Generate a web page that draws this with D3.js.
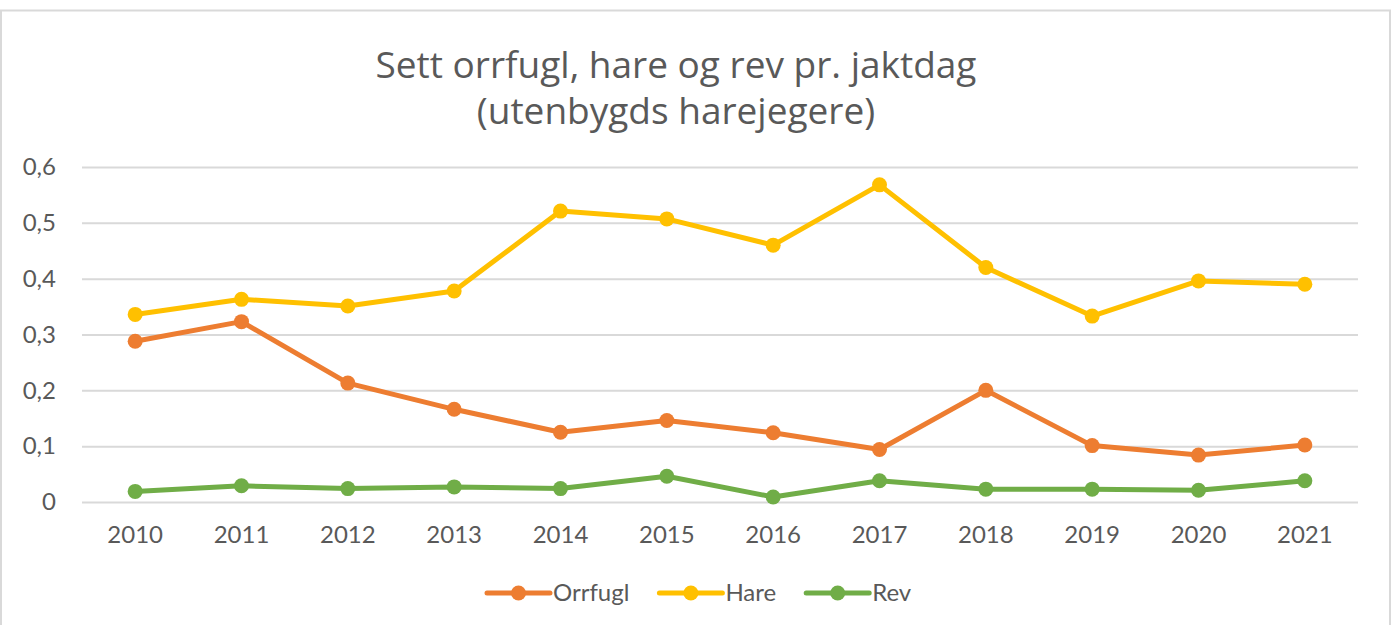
<!DOCTYPE html>
<html>
<head>
<meta charset="utf-8">
<script src="https://cdn.jsdelivr.net/npm/d3@7"></script>
<style>
  body { margin: 0; background: #fff; }
  text { font-family: Lato, "Open Sans", sans-serif; fill: #595959; }
</style>
</head>
<body>
<svg id="chart" width="1395" height="625"></svg>
<script>
// chart data
const years = ["2010", "2011", "2012", "2013", "2014", "2015", "2016", "2017", "2018", "2019", "2020", "2021"];
const orrfugl = [0.288, 0.323, 0.213, 0.166, 0.125, 0.146, 0.124, 0.094, 0.200, 0.101, 0.084, 0.102];
const hare = [0.336, 0.363, 0.351, 0.378, 0.521, 0.507, 0.460, 0.568, 0.420, 0.333, 0.396, 0.390];
const rev = [0.019, 0.029, 0.024, 0.027, 0.024, 0.046, 0.009, 0.038, 0.023, 0.023, 0.021, 0.038];
const yTicks = [0, 0.1, 0.2, 0.3, 0.4, 0.5, 0.6];
const titleLines = ["Sett orrfugl, hare og rev pr. jaktdag", "(utenbygds harejegere)"];

const series = [
  { name: "Orrfugl", values: orrfugl, color: "#ED7D31" },
  { name: "Hare", values: hare, color: "#FFC000" },
  { name: "Rev", values: rev, color: "#70AD47" }
];

const svg = d3.select("#chart");

// outer chart border
svg.append("rect")
  .attr("x", 1).attr("y", 10.5)
  .attr("width", 1389).attr("height", 700)
  .attr("fill", "#fff")
  .attr("stroke", "#d9d9d9")
  .attr("stroke-width", 2);

// title
svg.append("text")
  .attr("x", 676).attr("y", 78)
  .attr("text-anchor", "middle")
  .style("font-family", "'Open Sans', sans-serif")
  .style("font-size", "37px")
  .selectAll("tspan")
  .data(titleLines)
  .enter()
  .append("tspan")
  .attr("x", 676)
  .attr("dy", (d, i) => i === 0 ? 0 : 46)
  .text(d => d);

const plot = { left: 82, right: 1358, top: 167, bottom: 502 };

const x = d3.scaleBand()
  .domain(years)
  .range([plot.left, plot.right]);

const y = d3.scaleLinear()
  .domain([0, 0.6])
  .range([plot.bottom, plot.top]);

const fmt = d => d === 0 ? "0" : d3.format(".1f")(d).replace(".", ",");

// gridlines + y labels
const yAxis = svg.append("g")
  .attr("transform", `translate(${plot.left},0)`)
  .call(d3.axisLeft(y).tickValues(yTicks).tickFormat(fmt).tickSize(-(plot.right - plot.left)).tickPadding(26));
yAxis.select(".domain").remove();
yAxis.selectAll(".tick line").attr("stroke", "#d9d9d9").attr("stroke-width", 2);
yAxis.selectAll(".tick text").style("font-size", "24px").attr("fill", "#595959");

// x labels
const xAxis = svg.append("g")
  .attr("transform", `translate(0,${plot.bottom})`)
  .call(d3.axisBottom(x).tickSize(0).tickPadding(24));
xAxis.select(".domain").remove();
xAxis.selectAll(".tick text").style("font-size", "24px").attr("fill", "#595959");

const line = d3.line()
  .x((d, i) => x(years[i]) + x.bandwidth() / 2)
  .y(d => y(d));

series.forEach(s => {
  const g = svg.append("g");
  g.append("path")
    .datum(s.values)
    .attr("d", line)
    .attr("fill", "none")
    .attr("stroke", s.color)
    .attr("stroke-width", 5)
    .attr("stroke-linejoin", "round")
    .attr("stroke-linecap", "round");
  g.selectAll("circle")
    .data(s.values)
    .enter()
    .append("circle")
    .attr("cx", (d, i) => x(years[i]) + x.bandwidth() / 2)
    .attr("cy", d => y(d))
    .attr("r", 7.5)
    .attr("fill", s.color);
});

// legend
const legend = svg.append("g").attr("transform", "translate(0,593)");
let lx = 487;
series.forEach(s => {
  const item = legend.append("g").attr("transform", `translate(${lx},0)`);
  item.append("line")
    .attr("x1", 0).attr("x2", 63)
    .attr("y1", 0).attr("y2", 0)
    .attr("stroke", s.color)
    .attr("stroke-width", 5)
    .attr("stroke-linecap", "round");
  item.append("circle")
    .attr("cx", 31.5).attr("cy", 0).attr("r", 7.5)
    .attr("fill", s.color);
  const t = item.append("text")
    .attr("x", 66).attr("y", 0)
    .attr("dy", "0.35em")
    .style("font-size", "24px")
    .text(s.name);
  lx += 66 + t.node().getComputedTextLength() + 30;
});
</script>
</body>
</html>
